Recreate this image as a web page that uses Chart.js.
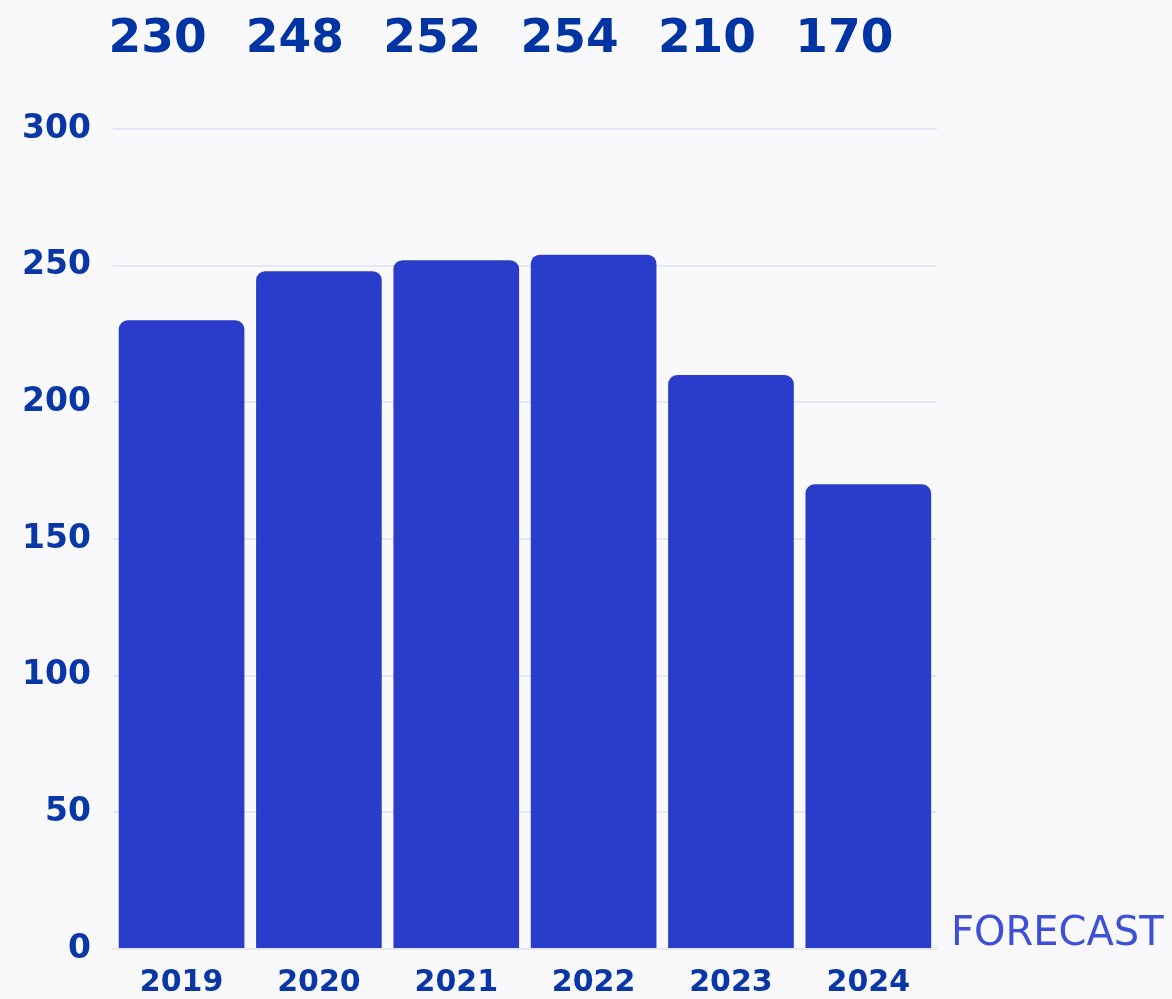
<!DOCTYPE html>
<html>
<head>
<meta charset="utf-8">
<script src="https://cdn.jsdelivr.net/npm/chart.js@4"></script>
<style>
  html, body { margin: 0; padding: 0; background: #f9f9fb; }
  #wrap { width: 1172px; height: 999px; }
</style>
</head>
<body>
<div id="wrap"><canvas id="c"></canvas></div>
<script>
const categories = ['2019', '2020', '2021', '2022', '2023', '2024'];
const values = [230, 248, 252, 254, 210, 170];
const yTicks = [0, 50, 100, 150, 200, 250, 300];
const sideNote = 'FORECAST';

const DARK = '#0a37a6';
const BAR = '#2a3dca';

const topLabels = {
  id: 'topLabels',
  afterDatasetsDraw(chart) {
    const ctx = chart.ctx;
    const meta = chart.getDatasetMeta(0);
    ctx.save();
    ctx.fillStyle = '#0034a3';
    ctx.font = 'bold 47px "DejaVu Sans"';
    ctx.textAlign = 'center';
    ctx.textBaseline = 'alphabetic';
    meta.data.forEach((bar, i) => {
      ctx.fillText(String(values[i]), bar.x - 24, 52);
    });
    ctx.font = '40px "DejaVu Sans"';
    ctx.fillStyle = '#3d50d6';
    ctx.textAlign = 'left';
    ctx.fillText(sideNote, chart.chartArea.right + 14, chart.chartArea.bottom - 4);
    ctx.restore();
  }
};

new Chart(document.getElementById('c'), {
  type: 'bar',
  data: {
    labels: categories,
    datasets: [{
      data: values,
      backgroundColor: BAR,
      borderRadius: { topLeft: 9, topRight: 9, bottomLeft: 0, bottomRight: 0 },
      borderSkipped: 'bottom',
      barPercentage: 0.915,
      categoryPercentage: 1.0
    }]
  },
  options: {
    responsive: true,
    maintainAspectRatio: false,
    animation: false,
    devicePixelRatio: 1,
    layout: { padding: { top: 129, right: 235, bottom: -10, left: 0 } },
    plugins: { legend: { display: false }, tooltip: { enabled: false } },
    scales: {
      x: {
        grid: { display: false },
        border: { display: true, color: '#e4e7f5', width: 2 },
        ticks: { color: DARK, font: { family: 'DejaVu Sans', weight: 'bold', size: 30 }, padding: 8 }
      },
      y: {
        min: 0,
        max: 300,
        afterBuildTicks(axis) { axis.ticks = yTicks.map(v => ({ value: v })); },
        grid: { color: '#e4e7f5', lineWidth: 2, drawTicks: false },
        border: { display: false },
        ticks: { color: DARK, font: { family: 'DejaVu Sans', weight: 'bold', size: 33 }, padding: 22 }
      }
    }
  },
  plugins: [topLabels]
});
</script>
</body>
</html>
